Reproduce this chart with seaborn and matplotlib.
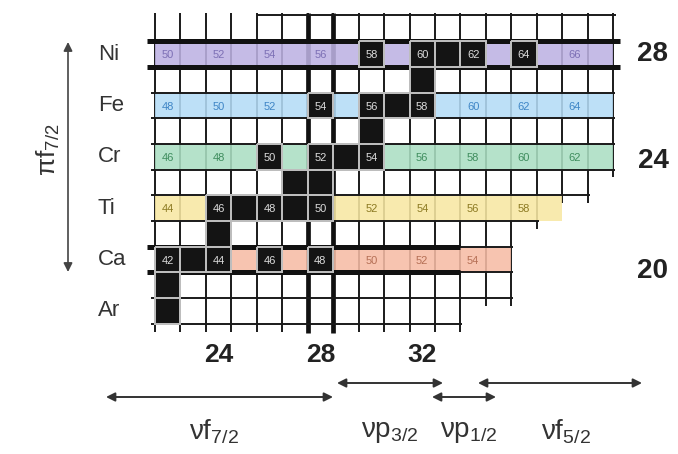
import numpy as np
import pandas as pd
import seaborn as sns
import matplotlib
matplotlib.use("Agg")
import matplotlib.pyplot as plt
from matplotlib.colors import ListedColormap, to_rgba
from matplotlib.patches import FancyArrowPatch

sns.set_theme(style="white")
plt.rcParams["font.family"] = ["Liberation Sans", "DejaVu Sans"]
plt.rcParams["mathtext.fontset"] = "custom"
plt.rcParams["mathtext.rm"] = "Liberation Sans"
plt.rcParams["mathtext.it"] = "Liberation Sans:italic"
plt.rcParams["mathtext.bf"] = "Liberation Sans:bold"

# ---------------- data ----------------
z_values = [29, 28, 27, 26, 25, 24, 23, 22, 21, 20, 19, 18]          # rows, top to bottom
n_values = list(range(22, 40))                                        # columns
row_n_max = [39, 39, 39, 39, 39, 39, 38, 36, 35, 35, 35, 33]          # last N cell drawn in each row
top_row_first_n = 26                                                  # top border of Cu row starts here
element_z = [28, 26, 24, 22, 20, 18]
element_names = ["Ni", "Fe", "Cr", "Ti", "Ca", "Ar"]
colored_z = [28, 26, 24, 22, 20]
colored_n_max = [39, 39, 39, 37, 35]
stable_cells = {
    28: [30, 32, 33, 34, 36],
    27: [32],
    26: [28, 30, 31, 32],
    25: [30],
    24: [26, 28, 29, 30],
    23: [27, 28],
    22: [24, 25, 26, 27, 28],
    21: [24],
    20: [22, 23, 24, 26, 28],
    19: [22],
    18: [22],
}
magic_z_labels = ["28", "24", "20"]
n_tick_labels = [24, 28, 32]
magic_n = 28
orbital_labels = [r"νf$_{7/2}$", r"νp$_{3/2}$", r"νp$_{1/2}$", r"νf$_{5/2}$"]
proton_label = r"πf$_{7/2}$"

# ---------------- styles ----------------
row_colors = ["#bdb2e3", "#b4dcf6", "#abdfc3", "#f8e8a3", "#f6bca5"]
row_text_colors = ["#7d70b5", "#3f86c6", "#3f8d5e", "#8c7a22", "#b56f55"]

CW, RH = 25.45, 25.7        # pixel size of one cell
X0, Y0 = 155.0, 15.45       # pixel position of grid origin
W, H = 678, 454


def P(px, py):
    return (px - X0) / CW, (py - Y0) / RH


nrows, ncols = len(z_values), len(n_values)
cat = np.full((nrows, ncols), np.nan)
for k, (z, nmax) in enumerate(zip(colored_z, colored_n_max)):
    i = z_values.index(z)
    for n in n_values:
        if n <= nmax:
            cat[i, n_values.index(n)] = k
stab = np.full((nrows, ncols), np.nan)
for z, ns in stable_cells.items():
    for n in ns:
        stab[z_values.index(z), n_values.index(n)] = 1.0

df_cat = pd.DataFrame(cat, index=z_values, columns=n_values)
df_stab = pd.DataFrame(stab, index=z_values, columns=n_values)

fig = plt.figure(figsize=(W / 100, H / 100), dpi=100)
ax = fig.add_axes([0, 0, 1, 1])

sns.heatmap(df_cat, ax=ax, cmap=ListedColormap(row_colors), vmin=-0.5, vmax=4.5,
            cbar=False, alpha=0.88, linewidths=0)
ax.collections[-1].set_zorder(2)
sns.heatmap(df_stab, ax=ax, cmap=ListedColormap(["#141414"]), vmin=0, vmax=2,
            cbar=False, linewidths=1.2, linecolor="#b9b9b9")
mesh = ax.collections[-1]
mesh.set_zorder(4)
edge = np.array([to_rgba("#bdbdbd") if not np.isnan(v) else (0, 0, 0, 0) for v in stab.ravel()])
mesh.set_edgecolor(edge)

line_col = "#1a1a1a"
# vertical grid lines
for b in range(ncols + 1):
    rows = [i for i in range(nrows)
            if (b - 1 >= 0 and n_values[b - 1] <= row_n_max[i]) or (b < ncols and n_values[b] <= row_n_max[i])]
    if rows:
        ax.vlines(b, -0.1, max(rows) + 1 + 0.3, color=line_col, lw=1.4, zorder=1.2)
# thick magic N lines
mi = n_values.index(magic_n)
for xb in (mi, mi + 1):
    ax.vlines(xb, -0.1, nrows + 0.35, color="#111111", lw=3.4, zorder=1.3)
# horizontal grid lines
for h in range(nrows + 1):
    if h == 0:
        ax.hlines(0, top_row_first_n - n_values[0], row_n_max[0] - n_values[0] + 1.1,
                  color=line_col, lw=1.4, zorder=3)
        continue
    nmax = row_n_max[h - 1] if h == nrows else max(row_n_max[h - 1], row_n_max[h])
    ax.hlines(h, -0.15, nmax - n_values[0] + 1.08, color=line_col, lw=1.4, zorder=3)
# thick magic Z lines
iNi = z_values.index(28)
ax.hlines([iNi, iNi + 1], -0.3, row_n_max[iNi] - n_values[0] + 1.28, color="#111111", lw=3.6, zorder=3.5)
iCa = z_values.index(20)
ax.hlines([iCa, iCa + 1], -0.3, 33 - n_values[0] + 1, color="#111111", lw=3.6, zorder=3.5)

# cell texts (mass numbers)
for k, (z, nmax) in enumerate(zip(colored_z, colored_n_max)):
    i = z_values.index(z)
    for n in n_values:
        if n <= nmax and n % 2 == 0:
            is_stable = n in stable_cells.get(z, [])
            ax.text(n_values.index(n) + 0.5, i + 0.55, str(z + n), ha="center", va="center",
                    fontsize=8, color="#dcdcdc" if is_stable else row_text_colors[k], zorder=5)

# element labels
for z, name in zip(element_z, element_names):
    i = z_values.index(z)
    ax.text(P(98, 0)[0], i + 0.5, name, ha="left", va="center", fontsize=16, color="#333333")

# magic Z labels on right
for lab, py in zip(magic_z_labels, [54, 161, 271]):
    ax.text(*P(653, py), lab, ha="center", va="center", fontsize=20, fontweight="bold", color="#222222")

# N tick labels
for n in n_tick_labels:
    ax.text(n_values.index(n) + 0.5, P(0, 355)[1], str(n), ha="center", va="center",
            fontsize=19, fontweight="bold", color="#222222")


def darrow(p1, p2, color="#333333", lw=1.4):
    a = FancyArrowPatch(P(*p1), P(*p2), arrowstyle="<|-|>", mutation_scale=13,
                        color=color, lw=lw, shrinkA=0, shrinkB=0, zorder=6)
    ax.add_patch(a)


# proton arrow + label
darrow((68, 42), (68, 272), color="#444444", lw=1.2)
ax.text(*P(48, 150), proton_label, rotation=90, ha="center", va="center", fontsize=19, color="#333333")

# neutron orbital arrows + labels
darrow((106, 397), (333, 397))
darrow((337, 383), (443, 383))
darrow((432, 397), (496, 397))
darrow((478, 383), (642, 383))
for lab, px in zip(orbital_labels, [214, 390, 469, 566]):
    ax.text(*P(px, 432), lab, ha="center", va="center", fontsize=20, color="#333333")

ax.set_xlim(-X0 / CW, (W - X0) / CW)
ax.set_ylim((H - Y0) / RH, -Y0 / RH)
ax.axis("off")
fig.savefig("out.png", dpi=100)
